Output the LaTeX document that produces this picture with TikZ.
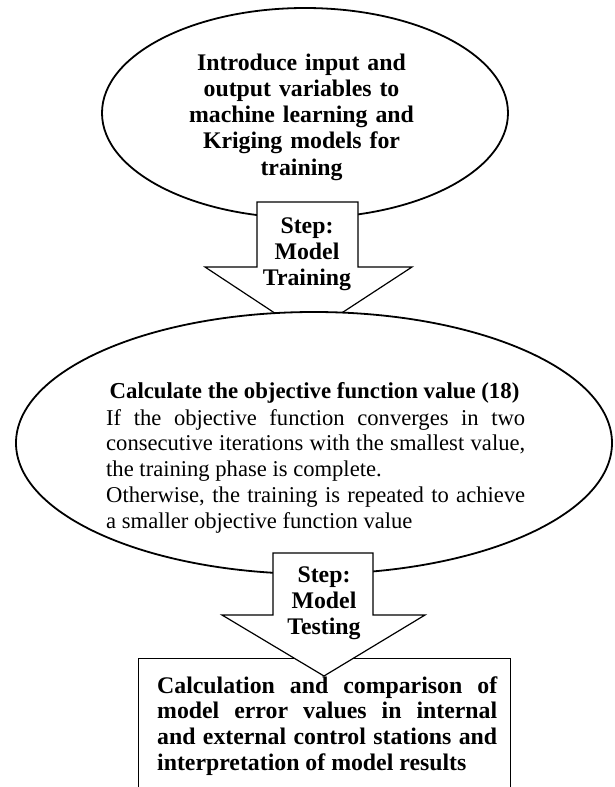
\documentclass[tikz,border=0pt]{standalone}
\usepackage{fontspec}
\setmainfont{Liberation Serif}
\usetikzlibrary{shapes.geometric}
\begin{document}
\begin{tikzpicture}[x=1pt,y=-1pt,
  oval/.style={ellipse, draw, line width=1.8pt, fill=white, inner sep=0pt},
  blockarrow/.style={draw, line width=1.2pt, fill=white, line join=miter},
  boxshape/.style={draw, line width=1.4pt, fill=white},
  boldtxt/.style={font=\fontsize{23.8}{26.3}\selectfont\bfseries, align=center, inner sep=0pt, anchor=base},
  titletxt/.style={font=\fontsize{22.8}{26}\selectfont\bfseries, inner sep=0pt, anchor=base},
  bodytxt/.style={font=\fontsize{22.6}{25.8}\selectfont, align=justify, text width=419pt, inner sep=0pt, anchor=base west},
  boxtxt/.style={font=\fontsize{23.8}{25.7}\selectfont\bfseries, align=justify, text width=340pt, inner sep=0pt, anchor=base west}
]
\useasboundingbox (0,0) rectangle (614,787);
\clip (0,0) rectangle (614,787);

% top ellipse
\node[oval, minimum width=406pt, minimum height=210pt] (e1) at (305,113) {};
% arrow 1
\draw[blockarrow] (257,202) coordinate (a1tl) -- (358,202) -- (358,267) -- (412,267)
  -- (308,335) coordinate (a1tip) -- (205,267) -- (257,267) -- cycle;
% middle ellipse
\node[oval, minimum width=596pt, minimum height=262pt] (e2) at (314,443) {};
% bottom box
\node[boxshape, minimum width=372pt, minimum height=150pt, anchor=north west, inner sep=0pt] (b1) at (138,658) {};
% arrow 2
\draw[blockarrow] (273,553) coordinate (a2tl) -- (373,553) -- (373,615) -- (425,615)
  -- (324,676) coordinate (a2tip) -- (222,615) -- (273,615) -- cycle;

% texts
\node[boldtxt, text width=260pt] (t1) at (301.5,70) {Introduce input and\\output variables to\\machine learning and\\Kriging models for\\training};
\node[boldtxt, text width=100pt] (s1) at (307,233) {Step:\\Model\\Training};
\node[titletxt] (t2) at (314.5,398) {Calculate the objective function value (18)};
\node[bodytxt] (t3) at (106,425) {If the objective function converges in two\linebreak consecutive iterations with the smallest value,\linebreak the training phase is complete.\par Otherwise, the training is repeated to achieve\linebreak a smaller objective function value};
\node[boldtxt, text width=100pt] (s2) at (324,582) {Step:\\Model\\Testing};
\node[boxtxt] (t4) at (157,693) {Calculation and comparison of\linebreak model error values in internal\linebreak and external control stations and\linebreak interpretation of model results};
\end{tikzpicture}
\end{document}
